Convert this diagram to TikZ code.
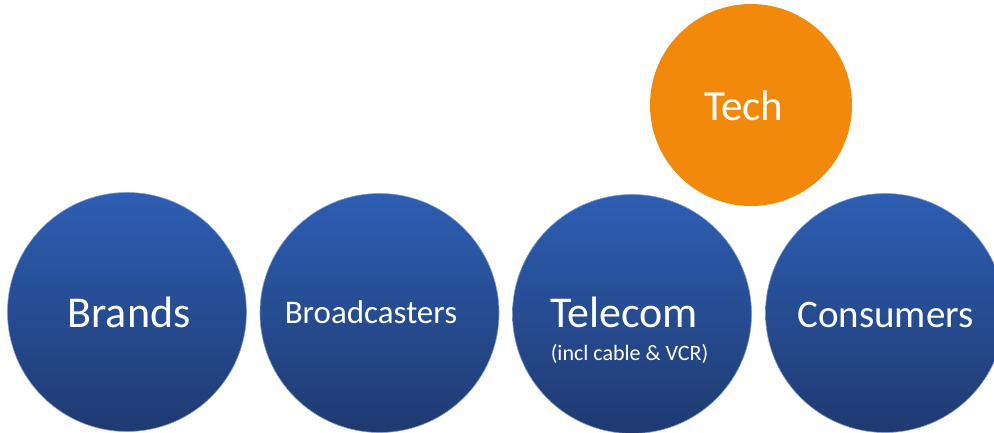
\documentclass[tikz,border=0pt]{standalone}
\usepackage{fontspec}
\setmainfont{Carlito}
\definecolor{bluetop}{HTML}{2D5EB3}
\definecolor{bluebot}{HTML}{1F3A70}
\definecolor{techorange}{HTML}{F3890B}
\tikzset{
  bluecircle/.style={circle, inner sep=0pt, minimum size=239pt, top color=bluetop, bottom color=bluebot, draw=bluetop!60!white, line width=0.6pt},
  orangecircle/.style={circle, inner sep=0pt, minimum size=202pt, fill=techorange},
  lbl/.style={text=white, inner sep=0pt, anchor=base}
}
\begin{document}
\begin{tikzpicture}[x=1pt,y=-1pt]
\useasboundingbox (0,0) rectangle (994,432);
\clip (0,0) rectangle (994,432);
\node[bluecircle] (brands) at (127,312) {};
\node[bluecircle] (broad) at (379.5,313) {};
\node[bluecircle] (telecom) at (632,314) {};
\node[bluecircle] (consumers) at (885,313) {};
\node[orangecircle] (tech) at (751,105) {};
\node[lbl, font=\fontsize{44}{44}\selectfont] (brandsT) at (129,327) {Brands};
\node[lbl, font=\fontsize{33}{33}\selectfont] (broadT) at (371,323) {Broadcasters};
\node[lbl, font=\fontsize{44}{44}\selectfont] (telecomT) at (624,327) {Telecom};
\node[lbl, font=\fontsize{22}{22}\selectfont] (telecomS) at (629.5,360) {(incl cable \& VCR)};
\node[lbl, font=\fontsize{39}{39}\selectfont] (consumersT) at (885.5,327) {Consumers};
\node[lbl, font=\fontsize{43}{43}\selectfont] (techT) at (743.7,120) {Tech};
\end{tikzpicture}
\end{document}
